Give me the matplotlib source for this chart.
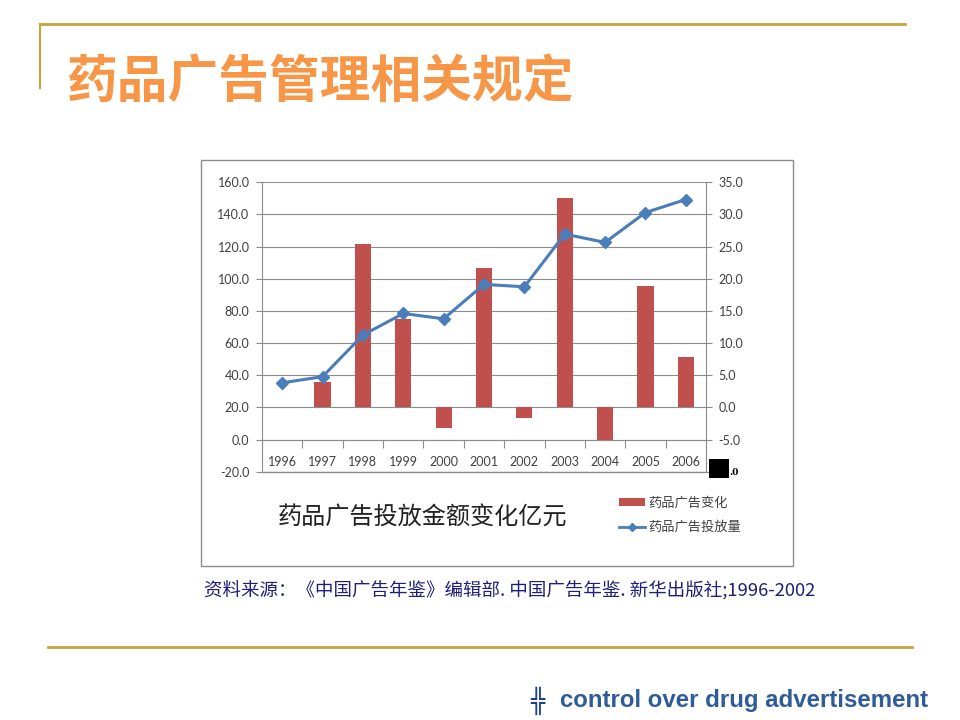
import numpy as np
import matplotlib
matplotlib.use('Agg')
import matplotlib.pyplot as plt
from matplotlib.patches import Rectangle, Patch
from matplotlib.lines import Line2D

# ---------------- data ----------------
years = ['1996', '1997', '1998', '1999', '2000', '2001', '2002', '2003', '2004', '2005', '2006']
change = [np.nan, 4.0, 25.4, 13.7, -3.2, 21.7, -1.6, 32.5, -5.1, 18.8, 7.9]      # 药品广告变化 (right scale)
amount = [35.3, 39.1, 65.0, 78.4, 75.1, 96.5, 95.0, 127.8, 122.6, 141.2, 149.3]  # 药品广告投放量 (left scale)
left_ticks = [-20, 0, 20, 40, 60, 80, 100, 120, 140, 160]
right_ticks = [-10, -5, 0, 5, 10, 15, 20, 25, 30, 35]
series_names = ['药品广告变化', '药品广告投放量']
slide_title = '药品广告管理相关规定'
chart_title = '药品广告投放金额变化亿元'
source_text = '资料来源：《中国广告年鉴》编辑部. 中国广告年鉴. 新华出版社;1996-2002'
footer_text = 'control over drug advertisement'

# ---------------- style ----------------
W, H = 960, 720
RED = '#C0504D'
BLUE = '#4A7EBB'
GOLD = '#C9A43A'
ORANGE = '#F79646'
GRID = '#8C8C8C'
TXT = '#404040'
CJK = ['Noto Sans CJK SC', 'DejaVu Sans']
NUMF = ['Lato', 'DejaVu Sans']

def fx(x):
    return x / W

def fy(y):
    return 1 - y / H

fig = plt.figure(figsize=(9.6, 7.2), dpi=100)

# slide decorations
fig.add_artist(Line2D([fx(40), fx(905)], [fy(24), fy(24)], color=GOLD, lw=2))
fig.add_artist(Line2D([fx(40), fx(40)], [fy(24), fy(88)], color=GOLD, lw=1.5))
fig.add_artist(Line2D([fx(48), fx(912)], [fy(647), fy(647)], color=GOLD, lw=2))

fig.text(fx(67), fy(82), slide_title, family=CJK, weight='bold', size=36.5,
         color=ORANGE, ha='left', va='center')

# chart frame
fig.add_artist(Rectangle((fx(201), fy(566)), fx(793) - fx(201), (566 - 160) / H,
                         transform=fig.transFigure, fill=False, edgecolor=GRID, lw=1))

# ---------------- axes ----------------
ax1 = fig.add_axes([fx(262), fy(471.7), fx(706) - fx(262), (471.7 - 182.3) / H])
x = np.arange(len(years))
ch = np.array(change, dtype=float)
ok = np.isfinite(ch)
ax1.bar(x[ok], ch[ok], width=0.4, color=RED, zorder=2)
ax1.set_ylim(right_ticks[0], right_ticks[-1])
ax1.set_xlim(-0.5, len(years) - 0.5)

ax2 = ax1.twinx()
ax2.plot(x, amount, color=BLUE, lw=2.2, marker='D', ms=6, zorder=3)
ax2.set_ylim(left_ticks[0], left_ticks[-1])
ax2.set_yticks(left_ticks)
ax2.set_yticklabels(['%.1f' % v for v in left_ticks])
ax2.yaxis.tick_left()
for s in ax2.spines.values():
    s.set_visible(False)
ax2.tick_params(axis='y', direction='out', length=4, width=0.8, color=GRID,
                pad=5, labelsize=9, labelcolor=TXT)
for lab in ax2.get_yticklabels():
    lab.set_family(NUMF)

# right axis (bars) -- set after twinx, which resets tick side
ax1.yaxis.tick_right()
ax1.set_yticks(right_ticks)
ax1.set_yticklabels([''] + ['%.1f' % v for v in right_ticks[1:]])
ax1.grid(axis='y', color=GRID, lw=0.8, zorder=0)
ax1.set_axisbelow(True)
ax1.spines['top'].set_visible(False)
for s in ['left', 'right', 'bottom']:
    ax1.spines[s].set_color(GRID)
    ax1.spines[s].set_linewidth(0.8)
ax1.spines['bottom'].set_position(('data', -5))
ax1.tick_params(axis='y', which='both', direction='out', length=4, width=0.8,
                color=GRID, pad=5, labelsize=9, labelcolor=TXT,
                left=False, labelleft=False, right=True, labelright=True)
ax1.set_xticks(x)
ax1.set_xticklabels(years)
ax1.set_xticks(np.arange(-0.5, len(years), 1.0), minor=True)
ax1.tick_params(axis='x', which='major', length=0, pad=12, labelsize=9, labelcolor=TXT)
ax1.tick_params(axis='x', which='minor', length=6, width=0.8, color=GRID, direction='out')
for lab in ax1.get_xticklabels() + ax1.get_yticklabels():
    lab.set_family(NUMF)
# bottom (-20 / -10) gridline fully visible
ax1.axhline(right_ticks[0], color=GRID, lw=1.0, clip_on=False, zorder=1)

# covered -10.0 label of right axis
fig.add_artist(Rectangle((fx(709), fy(478)), fx(729) - fx(709), (478 - 459) / H,
                         transform=fig.transFigure, facecolor='black', edgecolor='none'))
fig.text(fx(729), fy(472.5), '.0', family=['DejaVu Serif'], weight='bold', size=6.5,
         color='black', ha='left', va='center')

# chart title
fig.text(fx(278), fy(518), chart_title, family=CJK, size=17.4, color='#222222',
         ha='left', va='center')

# legend
handles = [Patch(facecolor=RED, edgecolor='none'),
           Line2D([], [], color=BLUE, lw=2, marker='D', ms=4)]
fig.legend(handles, series_names, loc='upper left',
           bbox_to_anchor=(fx(619), fy(497)), bbox_transform=fig.transFigure,
           frameon=False, prop={'family': CJK, 'size': 9.5}, labelcolor=TXT,
           handlelength=2.0, handleheight=0.55, handletextpad=0.2,
           labelspacing=0.85, borderpad=0, borderaxespad=0)

# source
fig.text(fx(204), fy(591), source_text, family=CJK, size=13.3, color='#1F1F7A',
         ha='left', va='center')

# footer
fig.text(fx(537), fy(701), '╬', family=['DejaVu Sans'], size=17, color='#1F3F8F',
         ha='center', va='center')
fig.text(fx(560), fy(700), footer_text, family=['Liberation Sans Narrow', 'Liberation Sans'],
         weight='bold', size=17.3, color='#2E5C9A', ha='left', va='center')

fig.savefig('out.png', dpi=100)
